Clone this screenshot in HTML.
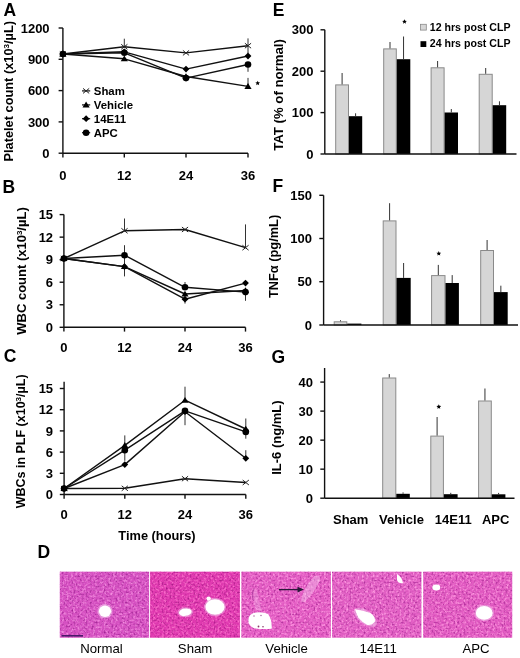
<!DOCTYPE html>
<html><head><meta charset="utf-8"><style>
html,body{margin:0;padding:0;background:#fff;}
svg{display:block;font-family:"Liberation Sans", sans-serif;filter:blur(0.3px);}
</style></head><body>
<svg width="520" height="658" viewBox="0 0 520 658">
<defs><filter id="nd0" x="0" y="0" width="100%" height="100%"><feTurbulence type="fractalNoise" baseFrequency="0.5" numOctaves="2" seed="3"/><feColorMatrix values="0 0 0 0 0  0 0 0 0 0  0 0 0 0 0  2.4 0 0 0 -1.15" result="n"/><feComposite in="SourceGraphic" in2="n" operator="in"/></filter><filter id="nl0" x="0" y="0" width="100%" height="100%"><feTurbulence type="fractalNoise" baseFrequency="0.45" numOctaves="2" seed="5"/><feColorMatrix values="0 0 0 0 0  0 0 0 0 0  0 0 0 0 0  0 2.6 0 0 -1.2" result="n"/><feComposite in="SourceGraphic" in2="n" operator="in"/></filter><filter id="nd1" x="0" y="0" width="100%" height="100%"><feTurbulence type="fractalNoise" baseFrequency="0.5" numOctaves="2" seed="10"/><feColorMatrix values="0 0 0 0 0  0 0 0 0 0  0 0 0 0 0  2.4 0 0 0 -1.15" result="n"/><feComposite in="SourceGraphic" in2="n" operator="in"/></filter><filter id="nl1" x="0" y="0" width="100%" height="100%"><feTurbulence type="fractalNoise" baseFrequency="0.45" numOctaves="2" seed="12"/><feColorMatrix values="0 0 0 0 0  0 0 0 0 0  0 0 0 0 0  0 2.6 0 0 -1.2" result="n"/><feComposite in="SourceGraphic" in2="n" operator="in"/></filter><filter id="nd2" x="0" y="0" width="100%" height="100%"><feTurbulence type="fractalNoise" baseFrequency="0.5" numOctaves="2" seed="17"/><feColorMatrix values="0 0 0 0 0  0 0 0 0 0  0 0 0 0 0  2.4 0 0 0 -1.15" result="n"/><feComposite in="SourceGraphic" in2="n" operator="in"/></filter><filter id="nl2" x="0" y="0" width="100%" height="100%"><feTurbulence type="fractalNoise" baseFrequency="0.45" numOctaves="2" seed="19"/><feColorMatrix values="0 0 0 0 0  0 0 0 0 0  0 0 0 0 0  0 2.6 0 0 -1.2" result="n"/><feComposite in="SourceGraphic" in2="n" operator="in"/></filter><filter id="nd3" x="0" y="0" width="100%" height="100%"><feTurbulence type="fractalNoise" baseFrequency="0.5" numOctaves="2" seed="24"/><feColorMatrix values="0 0 0 0 0  0 0 0 0 0  0 0 0 0 0  2.4 0 0 0 -1.15" result="n"/><feComposite in="SourceGraphic" in2="n" operator="in"/></filter><filter id="nl3" x="0" y="0" width="100%" height="100%"><feTurbulence type="fractalNoise" baseFrequency="0.45" numOctaves="2" seed="26"/><feColorMatrix values="0 0 0 0 0  0 0 0 0 0  0 0 0 0 0  0 2.6 0 0 -1.2" result="n"/><feComposite in="SourceGraphic" in2="n" operator="in"/></filter><filter id="nd4" x="0" y="0" width="100%" height="100%"><feTurbulence type="fractalNoise" baseFrequency="0.5" numOctaves="2" seed="31"/><feColorMatrix values="0 0 0 0 0  0 0 0 0 0  0 0 0 0 0  2.4 0 0 0 -1.15" result="n"/><feComposite in="SourceGraphic" in2="n" operator="in"/></filter><filter id="nl4" x="0" y="0" width="100%" height="100%"><feTurbulence type="fractalNoise" baseFrequency="0.45" numOctaves="2" seed="33"/><feColorMatrix values="0 0 0 0 0  0 0 0 0 0  0 0 0 0 0  0 2.6 0 0 -1.2" result="n"/><feComposite in="SourceGraphic" in2="n" operator="in"/></filter></defs>
<text x="3.60" y="16.00" font-size="17.5" font-weight="bold" text-anchor="start" fill="#000">A</text>
<line x1="62.90" y1="28.00" x2="62.90" y2="153.20" stroke="#111" stroke-width="1.4"/>
<line x1="58.60" y1="28.00" x2="62.90" y2="28.00" stroke="#111" stroke-width="1.4"/>
<text x="49.60" y="32.65" font-size="13.0" font-weight="bold" text-anchor="end" fill="#000">1200</text>
<line x1="58.60" y1="59.30" x2="62.90" y2="59.30" stroke="#111" stroke-width="1.4"/>
<text x="49.60" y="63.95" font-size="13.0" font-weight="bold" text-anchor="end" fill="#000">900</text>
<line x1="58.60" y1="90.60" x2="62.90" y2="90.60" stroke="#111" stroke-width="1.4"/>
<text x="49.60" y="95.25" font-size="13.0" font-weight="bold" text-anchor="end" fill="#000">600</text>
<line x1="58.60" y1="121.90" x2="62.90" y2="121.90" stroke="#111" stroke-width="1.4"/>
<text x="49.60" y="126.55" font-size="13.0" font-weight="bold" text-anchor="end" fill="#000">300</text>
<line x1="58.60" y1="153.20" x2="62.90" y2="153.20" stroke="#111" stroke-width="1.4"/>
<text x="49.60" y="157.85" font-size="13.0" font-weight="bold" text-anchor="end" fill="#000">0</text>
<line x1="62.90" y1="153.20" x2="248.00" y2="153.20" stroke="#111" stroke-width="1.4"/>
<line x1="62.90" y1="153.20" x2="62.90" y2="157.50" stroke="#111" stroke-width="1.4"/>
<text x="62.90" y="179.60" font-size="13.0" font-weight="bold" text-anchor="middle" fill="#000">0</text>
<line x1="124.30" y1="153.20" x2="124.30" y2="157.50" stroke="#111" stroke-width="1.4"/>
<text x="124.30" y="179.60" font-size="13.0" font-weight="bold" text-anchor="middle" fill="#000">12</text>
<line x1="186.00" y1="153.20" x2="186.00" y2="157.50" stroke="#111" stroke-width="1.4"/>
<text x="186.00" y="179.60" font-size="13.0" font-weight="bold" text-anchor="middle" fill="#000">24</text>
<line x1="248.00" y1="153.20" x2="248.00" y2="157.50" stroke="#111" stroke-width="1.4"/>
<text x="248.00" y="179.60" font-size="13.0" font-weight="bold" text-anchor="middle" fill="#000">36</text>
<text x="12.70" y="91.30" font-size="12.8" font-weight="bold" text-anchor="middle" fill="#000" transform="rotate(-90 12.70 91.30)">Platelet count (x10<tspan dy="-4" font-size="8">3</tspan><tspan dy="4">/µL)</tspan></text>
<line x1="124.30" y1="38.70" x2="124.30" y2="46.80" stroke="#333" stroke-width="1.0"/>
<line x1="248.00" y1="38.40" x2="248.00" y2="53.00" stroke="#333" stroke-width="1.0"/>
<line x1="248.00" y1="64.50" x2="248.00" y2="71.80" stroke="#333" stroke-width="1.0"/>
<line x1="248.00" y1="77.90" x2="248.00" y2="86.00" stroke="#333" stroke-width="1.0"/>
<polyline points="62.90,54.00 124.30,46.80 186.00,52.90 248.00,45.70" fill="none" stroke="#111" stroke-width="1.4" stroke-linejoin="round"/>
<path d="M59.80 51.52 L66.00 56.48 M59.80 56.48 L66.00 51.52" stroke="#222" stroke-width="1" fill="none"/>
<path d="M121.20 44.32 L127.40 49.28 M121.20 49.28 L127.40 44.32" stroke="#222" stroke-width="1" fill="none"/>
<path d="M182.90 50.42 L189.10 55.38 M182.90 55.38 L189.10 50.42" stroke="#222" stroke-width="1" fill="none"/>
<path d="M244.90 43.22 L251.10 48.18 M244.90 48.18 L251.10 43.22" stroke="#222" stroke-width="1" fill="none"/>
<polyline points="62.90,54.00 124.30,58.80 186.00,76.50 248.00,86.40" fill="none" stroke="#111" stroke-width="1.4" stroke-linejoin="round"/>
<path d="M62.90 50.70 L66.50 56.48 L59.30 56.48Z" fill="#000"/>
<path d="M124.30 55.50 L127.90 61.27 L120.70 61.27Z" fill="#000"/>
<path d="M186.00 73.20 L189.60 78.97 L182.40 78.97Z" fill="#000"/>
<path d="M248.00 83.10 L251.60 88.88 L244.40 88.88Z" fill="#000"/>
<polyline points="62.90,54.00 124.30,51.80 186.00,69.10 248.00,56.00" fill="none" stroke="#111" stroke-width="1.4" stroke-linejoin="round"/>
<path d="M62.90 50.60 L66.30 54.00 L62.90 57.40 L59.50 54.00Z" fill="#000"/>
<path d="M124.30 48.40 L127.70 51.80 L124.30 55.20 L120.90 51.80Z" fill="#000"/>
<path d="M186.00 65.70 L189.40 69.10 L186.00 72.50 L182.60 69.10Z" fill="#000"/>
<path d="M248.00 52.60 L251.40 56.00 L248.00 59.40 L244.60 56.00Z" fill="#000"/>
<polyline points="62.90,54.00 124.30,52.80 186.00,78.10 248.00,64.50" fill="none" stroke="#111" stroke-width="1.4" stroke-linejoin="round"/>
<circle cx="62.90" cy="54.00" r="3.30" fill="#000"/>
<circle cx="124.30" cy="52.80" r="3.30" fill="#000"/>
<circle cx="186.00" cy="78.10" r="3.30" fill="#000"/>
<circle cx="248.00" cy="64.50" r="3.30" fill="#000"/>
<polygon points="257.70,80.70 258.38,82.27 260.08,82.43 258.79,83.56 259.17,85.22 257.70,84.35 256.23,85.22 256.61,83.56 255.32,82.43 257.02,82.27" fill="#000"/>
<line x1="82.00" y1="90.90" x2="90.20" y2="90.90" stroke="#111" stroke-width="1.2"/>
<path d="M83.00 88.42 L89.20 93.38 M83.00 93.38 L89.20 88.42" stroke="#222" stroke-width="1" fill="none"/>
<text x="93.80" y="94.98" font-size="11.4" font-weight="bold" text-anchor="start" fill="#000">Sham</text>
<line x1="82.00" y1="104.90" x2="90.20" y2="104.90" stroke="#111" stroke-width="1.2"/>
<path d="M86.10 101.60 L89.70 107.38 L82.50 107.38Z" fill="#000"/>
<text x="93.80" y="108.98" font-size="11.4" font-weight="bold" text-anchor="start" fill="#000">Vehicle</text>
<line x1="82.00" y1="118.70" x2="90.20" y2="118.70" stroke="#111" stroke-width="1.2"/>
<path d="M86.10 115.30 L89.50 118.70 L86.10 122.10 L82.70 118.70Z" fill="#000"/>
<text x="93.80" y="122.78" font-size="11.4" font-weight="bold" text-anchor="start" fill="#000">14E11</text>
<line x1="82.00" y1="132.70" x2="90.20" y2="132.70" stroke="#111" stroke-width="1.2"/>
<circle cx="86.10" cy="132.70" r="3.30" fill="#000"/>
<text x="93.80" y="136.78" font-size="11.4" font-weight="bold" text-anchor="start" fill="#000">APC</text>
<text x="2.40" y="193.20" font-size="17.5" font-weight="bold" text-anchor="start" fill="#000">B</text>
<line x1="63.90" y1="214.60" x2="63.90" y2="327.30" stroke="#111" stroke-width="1.4"/>
<line x1="59.60" y1="214.60" x2="63.90" y2="214.60" stroke="#111" stroke-width="1.4"/>
<text x="53.10" y="219.25" font-size="13.0" font-weight="bold" text-anchor="end" fill="#000">15</text>
<line x1="59.60" y1="237.14" x2="63.90" y2="237.14" stroke="#111" stroke-width="1.4"/>
<text x="53.10" y="241.79" font-size="13.0" font-weight="bold" text-anchor="end" fill="#000">12</text>
<line x1="59.60" y1="259.68" x2="63.90" y2="259.68" stroke="#111" stroke-width="1.4"/>
<text x="53.10" y="264.33" font-size="13.0" font-weight="bold" text-anchor="end" fill="#000">9</text>
<line x1="59.60" y1="282.22" x2="63.90" y2="282.22" stroke="#111" stroke-width="1.4"/>
<text x="53.10" y="286.87" font-size="13.0" font-weight="bold" text-anchor="end" fill="#000">6</text>
<line x1="59.60" y1="304.76" x2="63.90" y2="304.76" stroke="#111" stroke-width="1.4"/>
<text x="53.10" y="309.41" font-size="13.0" font-weight="bold" text-anchor="end" fill="#000">3</text>
<line x1="59.60" y1="327.30" x2="63.90" y2="327.30" stroke="#111" stroke-width="1.4"/>
<text x="53.10" y="331.95" font-size="13.0" font-weight="bold" text-anchor="end" fill="#000">0</text>
<line x1="63.90" y1="327.30" x2="245.50" y2="327.30" stroke="#111" stroke-width="1.4"/>
<line x1="63.90" y1="327.30" x2="63.90" y2="331.60" stroke="#111" stroke-width="1.4"/>
<text x="63.90" y="351.50" font-size="13.0" font-weight="bold" text-anchor="middle" fill="#000">0</text>
<line x1="124.50" y1="327.30" x2="124.50" y2="331.60" stroke="#111" stroke-width="1.4"/>
<text x="124.50" y="351.50" font-size="13.0" font-weight="bold" text-anchor="middle" fill="#000">12</text>
<line x1="185.00" y1="327.30" x2="185.00" y2="331.60" stroke="#111" stroke-width="1.4"/>
<text x="185.00" y="351.50" font-size="13.0" font-weight="bold" text-anchor="middle" fill="#000">24</text>
<line x1="245.50" y1="327.30" x2="245.50" y2="331.60" stroke="#111" stroke-width="1.4"/>
<text x="245.50" y="351.50" font-size="13.0" font-weight="bold" text-anchor="middle" fill="#000">36</text>
<text x="25.90" y="271.00" font-size="13.0" font-weight="bold" text-anchor="middle" fill="#000" transform="rotate(-90 25.90 271.00)">WBC count (x10<tspan dy="-4" font-size="8">3</tspan><tspan dy="4">/µL)</tspan></text>
<line x1="124.50" y1="218.50" x2="124.50" y2="230.80" stroke="#333" stroke-width="1.0"/>
<line x1="245.50" y1="224.40" x2="245.50" y2="247.70" stroke="#333" stroke-width="1.0"/>
<line x1="124.50" y1="245.20" x2="124.50" y2="276.40" stroke="#333" stroke-width="1.0"/>
<line x1="185.00" y1="282.00" x2="185.00" y2="287.30" stroke="#333" stroke-width="1.0"/>
<line x1="245.50" y1="292.10" x2="245.50" y2="300.80" stroke="#333" stroke-width="1.0"/>
<line x1="185.00" y1="299.20" x2="185.00" y2="303.60" stroke="#333" stroke-width="1.0"/>
<polyline points="63.90,258.50 124.50,230.80 185.00,229.50 245.50,247.70" fill="none" stroke="#111" stroke-width="1.4" stroke-linejoin="round"/>
<path d="M60.80 256.02 L67.00 260.98 M60.80 260.98 L67.00 256.02" stroke="#222" stroke-width="1" fill="none"/>
<path d="M121.40 228.32 L127.60 233.28 M121.40 233.28 L127.60 228.32" stroke="#222" stroke-width="1" fill="none"/>
<path d="M181.90 227.02 L188.10 231.98 M181.90 231.98 L188.10 227.02" stroke="#222" stroke-width="1" fill="none"/>
<path d="M242.40 245.22 L248.60 250.18 M242.40 250.18 L248.60 245.22" stroke="#222" stroke-width="1" fill="none"/>
<polyline points="63.90,258.50 124.50,266.60 185.00,294.00 245.50,290.50" fill="none" stroke="#111" stroke-width="1.4" stroke-linejoin="round"/>
<path d="M63.90 255.20 L67.50 260.98 L60.30 260.98Z" fill="#000"/>
<path d="M124.50 263.30 L128.10 269.08 L120.90 269.08Z" fill="#000"/>
<path d="M185.00 290.70 L188.60 296.48 L181.40 296.48Z" fill="#000"/>
<path d="M245.50 287.20 L249.10 292.98 L241.90 292.98Z" fill="#000"/>
<polyline points="63.90,258.50 124.50,266.60 185.00,299.20 245.50,283.10" fill="none" stroke="#111" stroke-width="1.4" stroke-linejoin="round"/>
<path d="M63.90 255.10 L67.30 258.50 L63.90 261.90 L60.50 258.50Z" fill="#000"/>
<path d="M124.50 263.20 L127.90 266.60 L124.50 270.00 L121.10 266.60Z" fill="#000"/>
<path d="M185.00 295.80 L188.40 299.20 L185.00 302.60 L181.60 299.20Z" fill="#000"/>
<path d="M245.50 279.70 L248.90 283.10 L245.50 286.50 L242.10 283.10Z" fill="#000"/>
<polyline points="63.90,258.50 124.50,255.20 185.00,287.30 245.50,292.10" fill="none" stroke="#111" stroke-width="1.4" stroke-linejoin="round"/>
<circle cx="63.90" cy="258.50" r="3.30" fill="#000"/>
<circle cx="124.50" cy="255.20" r="3.30" fill="#000"/>
<circle cx="185.00" cy="287.30" r="3.30" fill="#000"/>
<circle cx="245.50" cy="292.10" r="3.30" fill="#000"/>
<text x="3.80" y="361.80" font-size="17.5" font-weight="bold" text-anchor="start" fill="#000">C</text>
<line x1="64.10" y1="381.70" x2="64.10" y2="494.50" stroke="#111" stroke-width="1.4"/>
<line x1="59.80" y1="494.50" x2="64.10" y2="494.50" stroke="#111" stroke-width="1.4"/>
<text x="53.10" y="499.15" font-size="13.0" font-weight="bold" text-anchor="end" fill="#000">0</text>
<line x1="59.80" y1="473.30" x2="64.10" y2="473.30" stroke="#111" stroke-width="1.4"/>
<text x="53.10" y="477.95" font-size="13.0" font-weight="bold" text-anchor="end" fill="#000">3</text>
<line x1="59.80" y1="452.10" x2="64.10" y2="452.10" stroke="#111" stroke-width="1.4"/>
<text x="53.10" y="456.75" font-size="13.0" font-weight="bold" text-anchor="end" fill="#000">6</text>
<line x1="59.80" y1="430.90" x2="64.10" y2="430.90" stroke="#111" stroke-width="1.4"/>
<text x="53.10" y="435.55" font-size="13.0" font-weight="bold" text-anchor="end" fill="#000">9</text>
<line x1="59.80" y1="409.70" x2="64.10" y2="409.70" stroke="#111" stroke-width="1.4"/>
<text x="53.10" y="414.35" font-size="13.0" font-weight="bold" text-anchor="end" fill="#000">12</text>
<line x1="59.80" y1="388.50" x2="64.10" y2="388.50" stroke="#111" stroke-width="1.4"/>
<text x="53.10" y="393.15" font-size="13.0" font-weight="bold" text-anchor="end" fill="#000">15</text>
<line x1="64.10" y1="494.50" x2="245.80" y2="494.50" stroke="#111" stroke-width="1.4"/>
<line x1="64.10" y1="494.50" x2="64.10" y2="498.80" stroke="#111" stroke-width="1.4"/>
<text x="64.10" y="518.90" font-size="13.0" font-weight="bold" text-anchor="middle" fill="#000">0</text>
<line x1="124.80" y1="494.50" x2="124.80" y2="498.80" stroke="#111" stroke-width="1.4"/>
<text x="124.80" y="518.90" font-size="13.0" font-weight="bold" text-anchor="middle" fill="#000">12</text>
<line x1="185.00" y1="494.50" x2="185.00" y2="498.80" stroke="#111" stroke-width="1.4"/>
<text x="185.00" y="518.90" font-size="13.0" font-weight="bold" text-anchor="middle" fill="#000">24</text>
<line x1="245.80" y1="494.50" x2="245.80" y2="498.80" stroke="#111" stroke-width="1.4"/>
<text x="245.80" y="518.90" font-size="13.0" font-weight="bold" text-anchor="middle" fill="#000">36</text>
<text x="25.30" y="441.40" font-size="12.5" font-weight="bold" text-anchor="middle" fill="#000" transform="rotate(-90 25.30 441.40)">WBCs in PLF (x10<tspan dy="-4" font-size="8">3</tspan><tspan dy="4">/µL)</tspan></text>
<text x="157.00" y="540.20" font-size="12.8" font-weight="bold" text-anchor="middle" fill="#000">Time (hours)</text>
<line x1="124.80" y1="435.40" x2="124.80" y2="460.80" stroke="#333" stroke-width="1.0"/>
<line x1="185.00" y1="386.70" x2="185.00" y2="400.20" stroke="#333" stroke-width="1.0"/>
<line x1="185.00" y1="410.80" x2="185.00" y2="425.20" stroke="#333" stroke-width="1.0"/>
<line x1="245.80" y1="418.50" x2="245.80" y2="438.70" stroke="#333" stroke-width="1.0"/>
<line x1="245.80" y1="450.20" x2="245.80" y2="458.30" stroke="#333" stroke-width="1.0"/>
<polyline points="64.10,488.50 124.80,488.30 185.00,478.70 245.80,482.50" fill="none" stroke="#111" stroke-width="1.4" stroke-linejoin="round"/>
<path d="M61.00 486.02 L67.20 490.98 M61.00 490.98 L67.20 486.02" stroke="#222" stroke-width="1" fill="none"/>
<path d="M121.70 485.82 L127.90 490.78 M121.70 490.78 L127.90 485.82" stroke="#222" stroke-width="1" fill="none"/>
<path d="M181.90 476.22 L188.10 481.18 M181.90 481.18 L188.10 476.22" stroke="#222" stroke-width="1" fill="none"/>
<path d="M242.70 480.02 L248.90 484.98 M242.70 484.98 L248.90 480.02" stroke="#222" stroke-width="1" fill="none"/>
<polyline points="64.10,488.50 124.80,445.40 185.00,400.20 245.80,429.00" fill="none" stroke="#111" stroke-width="1.4" stroke-linejoin="round"/>
<path d="M64.10 485.20 L67.70 490.98 L60.50 490.98Z" fill="#000"/>
<path d="M124.80 442.10 L128.40 447.88 L121.20 447.88Z" fill="#000"/>
<path d="M185.00 396.90 L188.60 402.68 L181.40 402.68Z" fill="#000"/>
<path d="M245.80 425.70 L249.40 431.48 L242.20 431.48Z" fill="#000"/>
<polyline points="64.10,488.50 124.80,464.60 185.00,411.70 245.80,458.30" fill="none" stroke="#111" stroke-width="1.4" stroke-linejoin="round"/>
<path d="M64.10 485.10 L67.50 488.50 L64.10 491.90 L60.70 488.50Z" fill="#000"/>
<path d="M124.80 461.20 L128.20 464.60 L124.80 468.00 L121.40 464.60Z" fill="#000"/>
<path d="M185.00 408.30 L188.40 411.70 L185.00 415.10 L181.60 411.70Z" fill="#000"/>
<path d="M245.80 454.90 L249.20 458.30 L245.80 461.70 L242.40 458.30Z" fill="#000"/>
<polyline points="64.10,488.50 124.80,450.20 185.00,410.80 245.80,431.90" fill="none" stroke="#111" stroke-width="1.4" stroke-linejoin="round"/>
<circle cx="64.10" cy="488.50" r="3.30" fill="#000"/>
<circle cx="124.80" cy="450.20" r="3.30" fill="#000"/>
<circle cx="185.00" cy="410.80" r="3.30" fill="#000"/>
<circle cx="245.80" cy="431.90" r="3.30" fill="#000"/>
<text x="272.80" y="16.00" font-size="17.5" font-weight="bold" text-anchor="start" fill="#000">E</text>
<line x1="324.80" y1="29.80" x2="324.80" y2="154.00" stroke="#111" stroke-width="1.4"/>
<line x1="320.50" y1="29.80" x2="324.80" y2="29.80" stroke="#111" stroke-width="1.4"/>
<text x="313.40" y="34.45" font-size="13.0" font-weight="bold" text-anchor="end" fill="#000">300</text>
<line x1="320.50" y1="71.20" x2="324.80" y2="71.20" stroke="#111" stroke-width="1.4"/>
<text x="313.40" y="75.85" font-size="13.0" font-weight="bold" text-anchor="end" fill="#000">200</text>
<line x1="320.50" y1="112.60" x2="324.80" y2="112.60" stroke="#111" stroke-width="1.4"/>
<text x="313.40" y="117.25" font-size="13.0" font-weight="bold" text-anchor="end" fill="#000">100</text>
<line x1="320.50" y1="154.00" x2="324.80" y2="154.00" stroke="#111" stroke-width="1.4"/>
<text x="313.40" y="158.65" font-size="13.0" font-weight="bold" text-anchor="end" fill="#000">0</text>
<rect x="335.70" y="84.90" width="12.80" height="69.10" fill="#d6d6d6" stroke="#8a8a8a" stroke-width="1"/>
<line x1="342.10" y1="73.00" x2="342.10" y2="84.40" stroke="#333" stroke-width="1.0"/>
<rect x="349.00" y="116.20" width="13.20" height="37.80" fill="#000"/>
<line x1="355.60" y1="113.30" x2="355.60" y2="116.20" stroke="#333" stroke-width="1.0"/>
<rect x="383.70" y="48.90" width="12.60" height="105.10" fill="#d6d6d6" stroke="#8a8a8a" stroke-width="1"/>
<line x1="390.00" y1="42.00" x2="390.00" y2="48.40" stroke="#333" stroke-width="1.0"/>
<rect x="396.80" y="59.20" width="13.50" height="94.80" fill="#000"/>
<line x1="403.55" y1="36.50" x2="403.55" y2="59.20" stroke="#333" stroke-width="1.0"/>
<rect x="431.10" y="67.80" width="13.00" height="86.20" fill="#d6d6d6" stroke="#8a8a8a" stroke-width="1"/>
<line x1="437.60" y1="61.00" x2="437.60" y2="67.30" stroke="#333" stroke-width="1.0"/>
<rect x="444.60" y="112.50" width="13.40" height="41.50" fill="#000"/>
<line x1="451.30" y1="109.00" x2="451.30" y2="112.50" stroke="#333" stroke-width="1.0"/>
<rect x="479.20" y="74.30" width="13.00" height="79.70" fill="#d6d6d6" stroke="#8a8a8a" stroke-width="1"/>
<line x1="485.70" y1="68.00" x2="485.70" y2="73.80" stroke="#333" stroke-width="1.0"/>
<rect x="492.70" y="105.20" width="13.50" height="48.80" fill="#000"/>
<line x1="499.45" y1="101.30" x2="499.45" y2="105.20" stroke="#333" stroke-width="1.0"/>
<line x1="324.80" y1="154.00" x2="516.50" y2="154.00" stroke="#111" stroke-width="1.5"/>
<polygon points="404.50,19.20 405.18,20.77 406.88,20.93 405.59,22.06 405.97,23.72 404.50,22.85 403.03,23.72 403.41,22.06 402.12,20.93 403.82,20.77" fill="#000"/>
<text x="283.00" y="95.00" font-size="13.2" font-weight="bold" text-anchor="middle" fill="#000" transform="rotate(-90 283.00 95.00)">TAT (% of normal)</text>
<rect x="420.5" y="24.3" width="5.8" height="5.8" fill="#d6d6d6" stroke="#8a8a8a" stroke-width="0.8"/>
<rect x="420.5" y="41.2" width="5.8" height="5.8" fill="#000"/>
<text x="429.80" y="31.20" font-size="10.6" font-weight="bold" text-anchor="start" fill="#000">12 hrs post CLP</text>
<text x="429.80" y="47.40" font-size="10.6" font-weight="bold" text-anchor="start" fill="#000">24 hrs post CLP</text>
<text x="272.40" y="192.40" font-size="17.5" font-weight="bold" text-anchor="start" fill="#000">F</text>
<line x1="323.60" y1="195.30" x2="323.60" y2="325.00" stroke="#111" stroke-width="1.4"/>
<line x1="319.30" y1="195.30" x2="323.60" y2="195.30" stroke="#111" stroke-width="1.4"/>
<text x="312.00" y="199.95" font-size="13.0" font-weight="bold" text-anchor="end" fill="#000">150</text>
<line x1="319.30" y1="238.50" x2="323.60" y2="238.50" stroke="#111" stroke-width="1.4"/>
<text x="312.00" y="243.15" font-size="13.0" font-weight="bold" text-anchor="end" fill="#000">100</text>
<line x1="319.30" y1="281.70" x2="323.60" y2="281.70" stroke="#111" stroke-width="1.4"/>
<text x="312.00" y="286.35" font-size="13.0" font-weight="bold" text-anchor="end" fill="#000">50</text>
<line x1="319.30" y1="325.00" x2="323.60" y2="325.00" stroke="#111" stroke-width="1.4"/>
<text x="312.00" y="329.65" font-size="13.0" font-weight="bold" text-anchor="end" fill="#000">0</text>
<rect x="334.20" y="321.80" width="12.60" height="3.20" fill="#d6d6d6" stroke="#8a8a8a" stroke-width="1"/>
<line x1="340.50" y1="320.20" x2="340.50" y2="321.30" stroke="#333" stroke-width="1.0"/>
<rect x="347.30" y="323.60" width="14.10" height="1.40" fill="#000"/>
<rect x="383.20" y="220.90" width="12.80" height="104.10" fill="#d6d6d6" stroke="#8a8a8a" stroke-width="1"/>
<line x1="389.60" y1="203.20" x2="389.60" y2="220.40" stroke="#333" stroke-width="1.0"/>
<rect x="396.50" y="277.90" width="14.20" height="47.10" fill="#000"/>
<line x1="403.60" y1="263.00" x2="403.60" y2="277.90" stroke="#333" stroke-width="1.0"/>
<rect x="431.60" y="275.60" width="13.40" height="49.40" fill="#d6d6d6" stroke="#8a8a8a" stroke-width="1"/>
<line x1="438.30" y1="264.90" x2="438.30" y2="275.10" stroke="#333" stroke-width="1.0"/>
<rect x="445.50" y="283.00" width="13.40" height="42.00" fill="#000"/>
<line x1="452.20" y1="275.10" x2="452.20" y2="283.00" stroke="#333" stroke-width="1.0"/>
<rect x="480.70" y="250.50" width="12.80" height="74.50" fill="#d6d6d6" stroke="#8a8a8a" stroke-width="1"/>
<line x1="487.10" y1="240.00" x2="487.10" y2="250.00" stroke="#333" stroke-width="1.0"/>
<rect x="494.00" y="292.10" width="13.70" height="32.90" fill="#000"/>
<line x1="500.85" y1="285.70" x2="500.85" y2="292.10" stroke="#333" stroke-width="1.0"/>
<line x1="323.60" y1="325.00" x2="518.00" y2="325.00" stroke="#111" stroke-width="1.5"/>
<polygon points="438.80,251.10 439.48,252.67 441.18,252.83 439.89,253.96 440.27,255.62 438.80,254.75 437.33,255.62 437.71,253.96 436.42,252.83 438.12,252.67" fill="#000"/>
<text x="278.30" y="256.40" font-size="12.8" font-weight="bold" text-anchor="middle" fill="#000" transform="rotate(-90 278.30 256.40)">TNFα (pg/mL)</text>
<text x="271.40" y="363.00" font-size="17.5" font-weight="bold" text-anchor="start" fill="#000">G</text>
<line x1="324.60" y1="368.00" x2="324.60" y2="498.20" stroke="#111" stroke-width="1.4"/>
<line x1="320.30" y1="498.20" x2="324.60" y2="498.20" stroke="#111" stroke-width="1.4"/>
<text x="313.00" y="502.85" font-size="13.0" font-weight="bold" text-anchor="end" fill="#000">0</text>
<line x1="320.30" y1="469.17" x2="324.60" y2="469.17" stroke="#111" stroke-width="1.4"/>
<text x="313.00" y="473.82" font-size="13.0" font-weight="bold" text-anchor="end" fill="#000">10</text>
<line x1="320.30" y1="440.14" x2="324.60" y2="440.14" stroke="#111" stroke-width="1.4"/>
<text x="313.00" y="444.79" font-size="13.0" font-weight="bold" text-anchor="end" fill="#000">20</text>
<line x1="320.30" y1="411.11" x2="324.60" y2="411.11" stroke="#111" stroke-width="1.4"/>
<text x="313.00" y="415.76" font-size="13.0" font-weight="bold" text-anchor="end" fill="#000">30</text>
<line x1="320.30" y1="382.08" x2="324.60" y2="382.08" stroke="#111" stroke-width="1.4"/>
<text x="313.00" y="386.73" font-size="13.0" font-weight="bold" text-anchor="end" fill="#000">40</text>
<rect x="382.70" y="378.00" width="13.10" height="120.20" fill="#d6d6d6" stroke="#8a8a8a" stroke-width="1"/>
<line x1="389.25" y1="374.10" x2="389.25" y2="377.50" stroke="#333" stroke-width="1.0"/>
<rect x="396.30" y="493.80" width="13.50" height="4.40" fill="#000"/>
<line x1="403.05" y1="492.40" x2="403.05" y2="493.80" stroke="#333" stroke-width="1.0"/>
<rect x="430.80" y="436.10" width="12.60" height="62.10" fill="#d6d6d6" stroke="#8a8a8a" stroke-width="1"/>
<line x1="437.10" y1="417.00" x2="437.10" y2="435.60" stroke="#333" stroke-width="1.0"/>
<rect x="443.90" y="494.20" width="13.70" height="4.00" fill="#000"/>
<line x1="450.75" y1="492.80" x2="450.75" y2="494.20" stroke="#333" stroke-width="1.0"/>
<rect x="478.60" y="401.00" width="12.70" height="97.20" fill="#d6d6d6" stroke="#8a8a8a" stroke-width="1"/>
<line x1="484.95" y1="388.50" x2="484.95" y2="400.50" stroke="#333" stroke-width="1.0"/>
<rect x="491.80" y="494.30" width="13.60" height="3.90" fill="#000"/>
<line x1="498.60" y1="492.90" x2="498.60" y2="494.30" stroke="#333" stroke-width="1.0"/>
<line x1="324.60" y1="498.20" x2="514.50" y2="498.20" stroke="#111" stroke-width="1.5"/>
<polygon points="438.80,404.30 439.48,405.87 441.18,406.03 439.89,407.16 440.27,408.82 438.80,407.95 437.33,408.82 437.71,407.16 436.42,406.03 438.12,405.87" fill="#000"/>
<text x="281.50" y="437.60" font-size="13.0" font-weight="bold" text-anchor="middle" fill="#000" transform="rotate(-90 281.50 437.60)">IL-6 (ng/mL)</text>
<text x="350.70" y="523.60" font-size="13.0" font-weight="bold" text-anchor="middle" fill="#000">Sham</text>
<text x="401.50" y="523.60" font-size="13.0" font-weight="bold" text-anchor="middle" fill="#000">Vehicle</text>
<text x="453.20" y="523.60" font-size="13.0" font-weight="bold" text-anchor="middle" fill="#000">14E11</text>
<text x="495.70" y="523.60" font-size="13.0" font-weight="bold" text-anchor="middle" fill="#000">APC</text>
<text x="37.60" y="557.60" font-size="17.5" font-weight="bold" text-anchor="start" fill="#000">D</text>
<rect x="59.80" y="571.7" width="89.30" height="66.0" fill="rgb(214, 82, 194)"/>
<rect x="59.80" y="571.7" width="89.30" height="66.0" fill="rgb(154,32,143)" filter="url(#nd0)"/>
<rect x="59.80" y="571.7" width="89.30" height="66.0" fill="rgb(244,142,224)" filter="url(#nl0)"/>
<rect x="150.10" y="571.7" width="89.80" height="66.0" fill="rgb(224, 58, 176)"/>
<rect x="150.10" y="571.7" width="89.80" height="66.0" fill="rgb(161,23,130)" filter="url(#nd1)"/>
<rect x="150.10" y="571.7" width="89.80" height="66.0" fill="rgb(254,118,206)" filter="url(#nl1)"/>
<rect x="241.40" y="571.7" width="89.50" height="66.0" fill="rgb(228, 94, 196)"/>
<rect x="241.40" y="571.7" width="89.50" height="66.0" fill="rgb(164,37,145)" filter="url(#nd2)"/>
<rect x="241.40" y="571.7" width="89.50" height="66.0" fill="rgb(255,154,226)" filter="url(#nl2)"/>
<rect x="332.10" y="571.7" width="89.30" height="66.0" fill="rgb(226, 96, 196)"/>
<rect x="332.10" y="571.7" width="89.30" height="66.0" fill="rgb(162,38,145)" filter="url(#nd3)"/>
<rect x="332.10" y="571.7" width="89.30" height="66.0" fill="rgb(255,156,226)" filter="url(#nl3)"/>
<rect x="423.20" y="571.7" width="89.00" height="66.0" fill="rgb(226, 92, 194)"/>
<rect x="423.20" y="571.7" width="89.00" height="66.0" fill="rgb(162,36,143)" filter="url(#nd4)"/>
<rect x="423.20" y="571.7" width="89.00" height="66.0" fill="rgb(255,152,224)" filter="url(#nl4)"/>
<ellipse cx="105.0" cy="611.3" rx="7.6" ry="7.2" fill="#f4c8ee" opacity="0.55"/>
<ellipse cx="105.0" cy="611.3" rx="6.1" ry="5.7" fill="#fff"/>
<line x1="61.5" y1="635.8" x2="83.0" y2="635.8" stroke="#4a1a6a" stroke-width="1.6"/>
<ellipse cx="185.3" cy="612.2" rx="7.8" ry="5.0" fill="#f4c8ee" opacity="0.5"/>
<ellipse cx="185.3" cy="612.2" rx="6.4" ry="3.7" fill="#fff" transform="rotate(-8 185.3 612.2)"/>
<ellipse cx="215.0" cy="607.0" rx="11.0" ry="9.2" fill="#f4c8ee" opacity="0.5"/>
<ellipse cx="215.0" cy="607.0" rx="9.6" ry="7.8" fill="#fff"/>
<circle cx="208.6" cy="598.6" r="2.2" fill="#fff"/>
<path d="M254 590 Q252 600 256 610 L262 611 Q258 600 257 590Z" fill="#f4c8ee" opacity="0.3"/>
<path d="M253 600 Q251 594 254 588" stroke="#8a2a8a" stroke-width="0.8" fill="none" opacity="0.6"/>
<path d="M248.3 620 Q248.8 613 256 612.4 Q264 611.6 268 614 Q271.8 618 271.8 628.8 Q262 629.6 254 628.2 Q248.3 626 248.3 620Z" fill="#fff"/>
<circle cx="258.5" cy="626.5" r="0.9" fill="#8a3a6a"/><circle cx="263" cy="626.8" r="0.8" fill="#8a3a6a"/><circle cx="254" cy="616" r="0.7" fill="#a05a9a"/><circle cx="261" cy="615.5" r="0.7" fill="#a05a9a"/>
<path d="M301.5 600 Q304 588 314 577 Q320 574 319.5 580 Q316 590 304.5 601.5 Q301.5 602.5 301.5 600Z" fill="#f6d0f2" opacity="0.38" stroke="#fbe4f8" stroke-width="0.9"/>
<line x1="279" y1="589.6" x2="299" y2="589.6" stroke="#2a1a3a" stroke-width="1.3"/>
<path d="M304 589.6 L297.5 586.8 L297.5 592.4Z" fill="#2a1a3a"/>
<ellipse cx="365.5" cy="617.3" rx="13.2" ry="6.6" fill="#f4c8ee" opacity="0.5" transform="rotate(36 365.5 617.3)"/>
<path d="M355 609.3 Q363 610.5 370.4 613 Q375.5 616.5 375 621.5 Q372 625.5 367.5 625 Q361.5 622 358.3 617.5 Q356 613 355 609.3Z" fill="#fff"/>
<path d="M397 574 Q402 577 403 583 Q399 584 397 580Z" fill="#fff"/>
<ellipse cx="436.3" cy="587.6" rx="4" ry="3" fill="#fff"/>
<ellipse cx="484.2" cy="612.9" rx="9.8" ry="8.2" fill="#f4c8ee" opacity="0.5"/>
<ellipse cx="484.2" cy="612.9" rx="8.4" ry="6.8" fill="#fff"/>
<text x="101.50" y="652.60" font-size="13.2" font-weight="normal" text-anchor="middle" fill="#000">Normal</text>
<text x="195.10" y="652.60" font-size="13.2" font-weight="normal" text-anchor="middle" fill="#000">Sham</text>
<text x="286.60" y="652.60" font-size="13.2" font-weight="normal" text-anchor="middle" fill="#000">Vehicle</text>
<text x="378.20" y="652.60" font-size="13.2" font-weight="normal" text-anchor="middle" fill="#000">14E11</text>
<text x="476.10" y="652.60" font-size="13.2" font-weight="normal" text-anchor="middle" fill="#000">APC</text>
</svg></body></html>
